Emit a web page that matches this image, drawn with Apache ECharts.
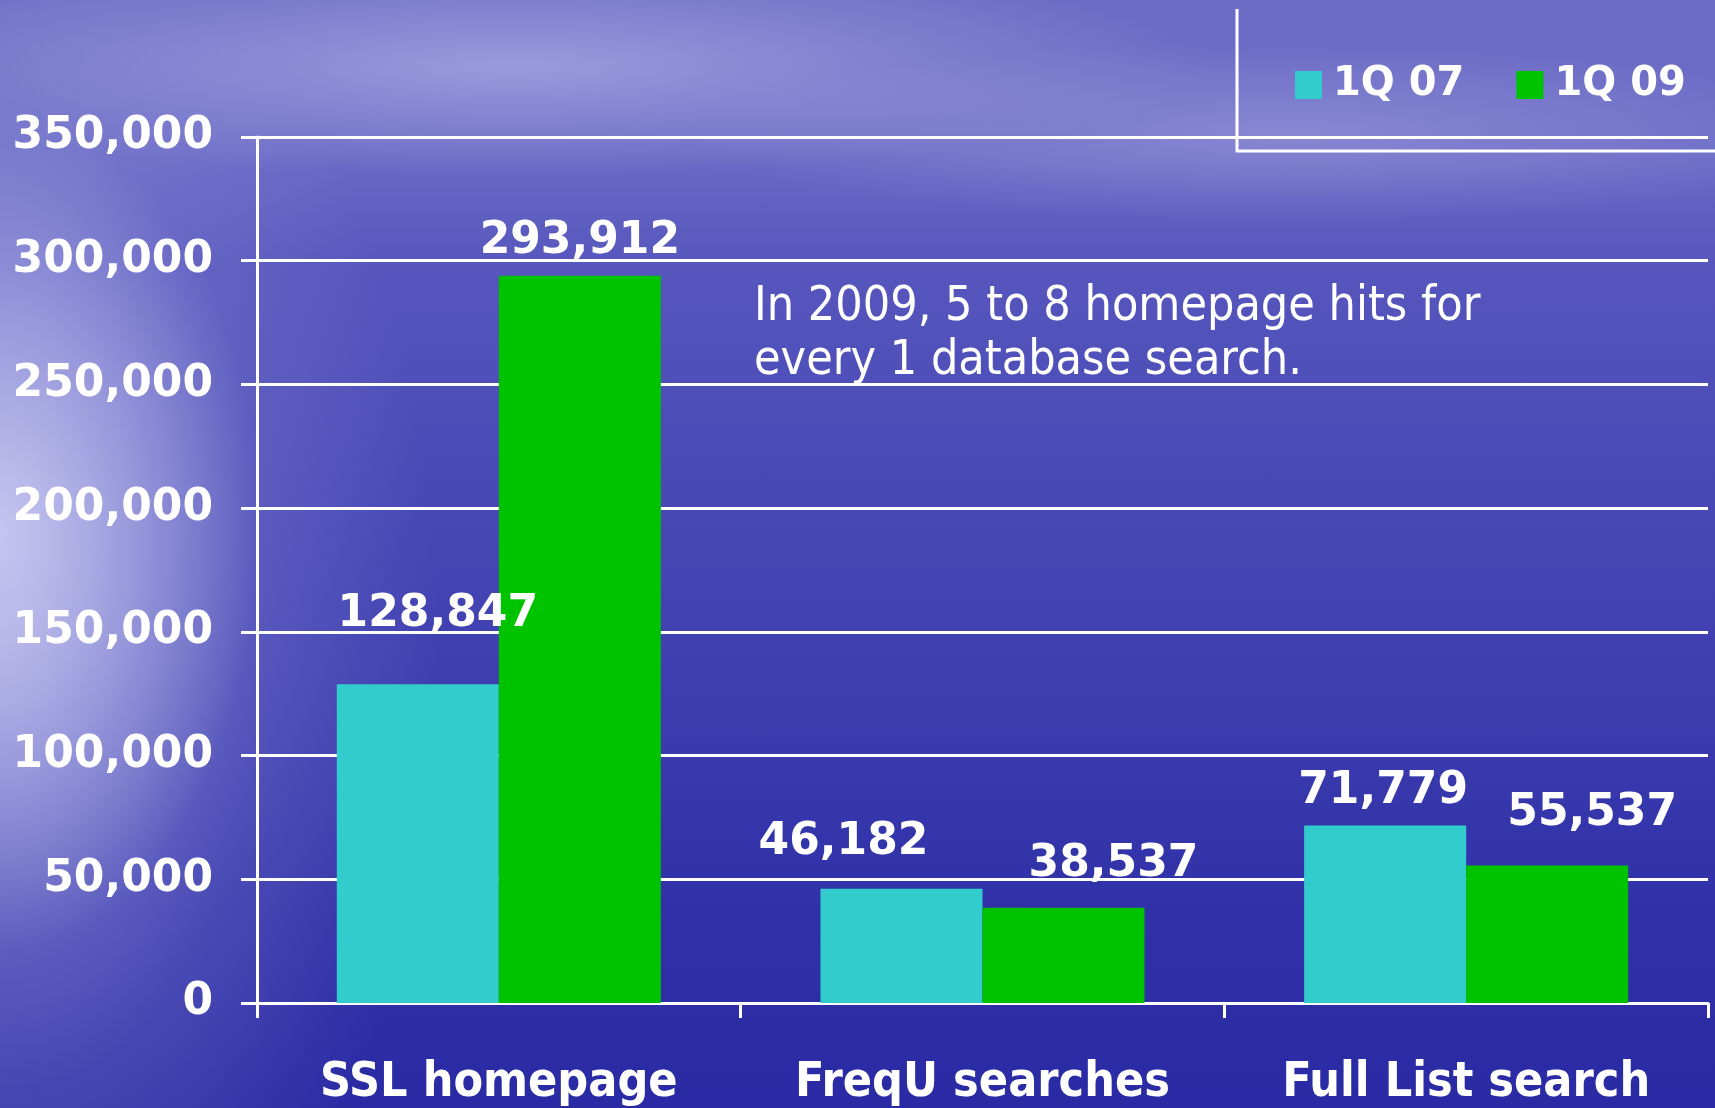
<!DOCTYPE html>
<html>
<head>
<meta charset="utf-8">
<title>Homepage hits vs database searches</title>
<script src="https://cdn.jsdelivr.net/npm/echarts@6/dist/echarts.min.js"></script>
<style>
  html, body { margin: 0; padding: 0; }
  body {
    width: 1715px; height: 1108px; overflow: hidden;
    background:
      radial-gradient(ellipse 260px 420px at 0% 48%, rgba(220,220,250,0.75), rgba(200,200,242,0) 100%),
      radial-gradient(ellipse 440px 760px at 0% 58%, rgba(170,170,230,0.7), rgba(150,150,220,0.25) 60%, rgba(150,150,220,0) 100%),
      radial-gradient(ellipse 700px 110px at 30% 6%, rgba(200,200,240,0.5), rgba(200,200,240,0) 100%),
      radial-gradient(ellipse 600px 90px at 75% 12%, rgba(190,190,235,0.35), rgba(190,190,235,0) 100%),
      linear-gradient(to bottom, #6c6cc6 0%, #6a6ac6 14%, #5656bd 24%, #4848b6 45%, #3c3caf 65%, #3030a8 82%, #2a2aa4 100%);
  }
  #main { width: 1715px; height: 1108px; }
</style>
</head>
<body>
<div id="main"></div>
<script>
  const categories = ['SSL homepage', 'FreqU searches', 'Full List search']
  const seriesNames = ['1Q 07', '1Q 09']
  const q107 = [128847, 46182, 71779]
  const q109 = [293912, 38537, 55537]
  const yTicks = [0, 50000, 100000, 150000, 200000, 250000, 300000, 350000]

  // hand-placed label nudges, as on the original slide
  const offsets107 = [[20, -48], [-58, -24], [-2, -12]]
  const offsets109 = [[0, -12], [50, -21], [45, -30]]

  const white = '#ffffff'
  const boldFont = '"DejaVu Sans", Verdana, sans-serif'
  const narrowFont = '"DejaVu Sans Condensed", "Liberation Sans Narrow", "Liberation Sans", sans-serif'
  const fmt = v => Number(v).toLocaleString('en-US')

  const withLabels = (vals, offs) => vals.map((v, i) => ({
    value: v,
    label: { offset: offs[i] }
  }))

  const barLabel = {
    show: true,
    position: 'top',
    distance: 0,
    color: white,
    fontFamily: boldFont,
    fontWeight: 'bold',
    fontSize: 44,
    formatter: p => fmt(p.value)
  }

  let myChart = echarts.init(document.getElementById('main'))

  let option = {
    backgroundColor: 'transparent',
    animation: false,
    grid: { left: 257, right: 7, top: 137, bottom: 103 },
    legend: {
      data: seriesNames,
      left: 1290,
      top: 60,
      icon: 'rect',
      itemWidth: 27,
      itemHeight: 28,
      itemGap: 52,
      textStyle: {
        color: white,
        fontFamily: boldFont,
        fontWeight: 'bold',
        fontSize: 40,
        padding: [0, 0, 0, 6]
      }
    },
    xAxis: {
      type: 'category',
      data: categories,
      axisLine: { lineStyle: { color: white, width: 3 } },
      axisTick: { show: true, interval: 0, length: 15, lineStyle: { color: white, width: 3 } },
      axisLabel: {
        interval: 0,
        color: white,
        margin: 57,
        fontFamily: narrowFont,
        fontWeight: 'bold',
        fontSize: 48
      }
    },
    yAxis: {
      type: 'value',
      min: yTicks[0],
      max: yTicks[yTicks.length - 1],
      interval: yTicks[1] - yTicks[0],
      axisLine: { show: true, lineStyle: { color: white, width: 3 } },
      axisTick: { show: true, length: 16, lineStyle: { color: white, width: 3 } },
      splitLine: { lineStyle: { color: white, width: 3 } },
      axisLabel: {
        color: white,
        margin: 44,
        fontFamily: boldFont,
        fontWeight: 'bold',
        fontSize: 44,
        formatter: v => fmt(v)
      }
    },
    series: [
      {
        name: seriesNames[0],
        type: 'bar',
        barGap: '0%',
        barCategoryGap: '33%',
        itemStyle: { color: '#33cccc' },
        label: barLabel,
        data: withLabels(q107, offsets107)
      },
      {
        name: seriesNames[1],
        type: 'bar',
        itemStyle: { color: '#00c300' },
        label: barLabel,
        data: withLabels(q109, offsets109)
      }
    ],
    graphic: [
      {
        // legend frame, only its left and bottom edges show on the slide
        type: 'polyline',
        shape: { points: [[1237, 9], [1237, 151], [1715, 151]] },
        style: { fill: 'none', stroke: white, lineWidth: 3 },
        silent: true
      },
      {
        type: 'text',
        left: 754,
        top: 281,
        style: {
          text: 'In 2009, 5 to 8 homepage hits for\nevery 1 database search.',
          fill: white,
          font: '48px "DejaVu Sans Condensed", "Liberation Sans", sans-serif',
          lineHeight: 54
        }
      }
    ]
  }

  myChart.setOption(option)
</script>
</body>
</html>
